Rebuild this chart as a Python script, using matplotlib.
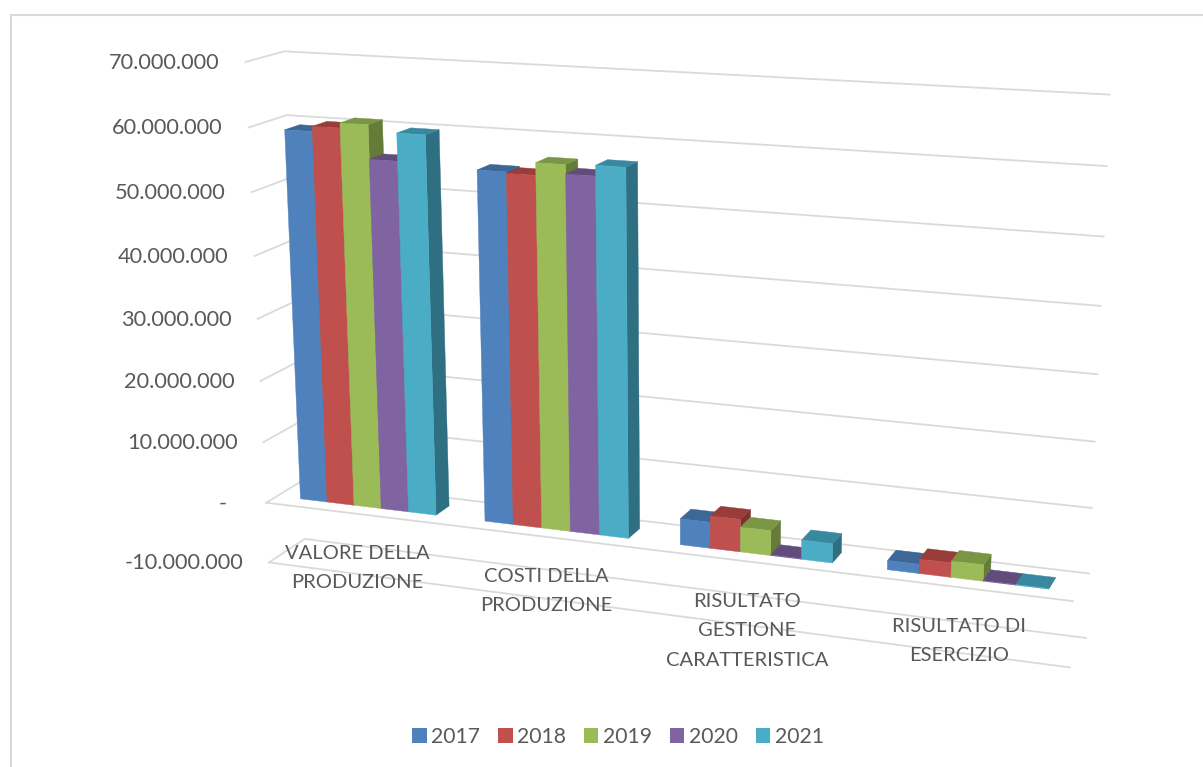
import numpy as np
import matplotlib
matplotlib.use("Agg")
import matplotlib.pyplot as plt
from matplotlib.patches import Patch, Polygon

categories = ["VALORE DELLA\nPRODUZIONE", "COSTI DELLA\nPRODUZIONE",
              "RISULTATO\nGESTIONE\nCARATTERISTICA", "RISULTATO DI\nESERCIZIO"]
years = ["2017", "2018", "2019", "2020", "2021"]
v2017 = [59300000, 55100000, 4100000, 1400000]
v2018 = [60100000, 54900000, 5100000, 2200000]
v2019 = [60900000, 56800000, 3900000, 2500000]
v2020 = [55600000, 55400000, 100000, 100000]
v2021 = [59900000, 57000000, 3000000, 100000]
series = [v2017, v2018, v2019, v2020, v2021]
ticks = [70000000, 60000000, 50000000, 40000000, 30000000, 20000000, 10000000, 0, -10000000]
tick_labels = ["70.000.000", "60.000.000", "50.000.000", "40.000.000", "30.000.000",
               "20.000.000", "10.000.000", "-", "-10.000.000"]

front = ["#4F81BD", "#C0504D", "#9BBB59", "#8064A2", "#4BACC6"]
top = ["#3C6796", "#9A3D3A", "#7A9645", "#614C7C", "#3888A0"]
side = ["#315479", "#7E322F", "#657C38", "#4F3E66", "#2E6F82"]
grey = "#DADADA"
txt = "#595959"

plt.rcParams["font.family"] = ["Lato", "DejaVu Sans"]

# camera fitted on points of the picture: (category pos, value in 10M, depth) -> pixel
cal = [(0, 7, 1, 285, 51), (4, 7, 1, 1110, 95), (0, -1, 1, 303, 538), (4, -1, 1, 1085, 637),
       (0, 7, 0, 245, 62), (0, -1, 0, 268, 562), (4, -1, 0, 1070, 667), (0, 0, 0, 267, 502),
       (4, 0, 0, 1073, 602), (0, 0, 1, 303, 482), (4, 0, 1, 1090, 575), (0, 6, 1, 287, 115),
       (4, 6, 1, 1106, 165), (0, 6, 0, 248, 128),
       (0.13, 0, 0.3, 302, 499), (0.87, 0, 0.3, 435, 515), (1.13, 0, 0.3, 486, 522),
       (1.87, 0, 0.3, 628, 538), (2.13, 0, 0.3, 681, 545), (2.87, 0, 0.3, 832, 563),
       (3.13, 0, 0.3, 888, 569), (3.87, 0, 0.3, 1048, 589)]
A = []
b = []
for x, y, z, u, v in cal:
    u = u / 1000
    v = v / 1000
    A.append([x, y, z, 1, 0, 0, 0, 0, -u * x, -u * y, -u * z])
    A.append([0, 0, 0, 0, x, y, z, 1, -v * x, -v * y, -v * z])
    b += [u, v]
p = np.linalg.lstsq(np.array(A), np.array(b), rcond=None)[0]
P = np.append(p, 1).reshape(3, 4)


def proj(x, val, z):
    h = P @ np.array([x, val / 1e7, z, 1])
    return h[0] / h[2] * 1000, h[1] / h[2] * 1000


fig = plt.figure(figsize=(12.03, 7.67), dpi=100)
ax = fig.add_axes([0, 0, 1, 1])
ax.set_xlim(0, 1203)
ax.set_ylim(767, 0)
ax.axis("off")

# chart border, only top and left are in the crop
ax.plot([11, 11, 1203], [767, 15, 15], color=grey, lw=1.5, zorder=1, solid_joinstyle="miter")

# gridlines
for t, lab in zip(ticks, tick_labels):
    a = proj(0, t, 0)
    b1 = proj(0, t, 1)
    c = proj(4, t, 1)
    ax.plot([a[0], b1[0], c[0]], [a[1], b1[1], c[1]], color=grey, lw=1.3, zorder=1)
    if t <= 0:
        d = proj(4, t, 0)
        ax.plot([a[0], d[0]], [a[1], d[1]], color=grey, lw=1.3, zorder=1)
    off = 39 if lab == "-" else 26
    ax.text(a[0] - off, a[1] + 1, lab, ha="right", va="center", fontsize=15.7, color=txt, zorder=5)

# bars, left to right so that the right faces get covered by the next bar
z0, z1 = 0.3, 0.7
gap = 0.13
w = (1 - 2 * gap) / len(series)
order = 2
for c in range(len(categories)):
    for s in range(len(series)):
        val = series[s][c]
        x0 = c + gap + s * w
        x1 = x0 + w
        faces = [
            ([(x1, 0, z0), (x1, 0, z1), (x1, val, z1), (x1, val, z0)], side[s]),
            ([(x0, val, z0), (x1, val, z0), (x1, val, z1), (x0, val, z1)], top[s]),
            ([(x0, 0, z0), (x1, 0, z0), (x1, val, z0), (x0, val, z0)], front[s]),
        ]
        for pts, col in faces:
            xy = [proj(*q) for q in pts]
            ax.add_patch(Polygon(xy, closed=True, fc=col, ec=col, lw=0.3, zorder=order))
            order += 0.01

# category labels sit over the floor lines
label_pos = [(357, 568), (546, 591), (747, 631), (959, 641)]
for lab, (lx, ly) in zip(categories, label_pos):
    ax.text(lx, ly, lab, ha="center", va="center", fontsize=14.5, color=txt,
            linespacing=1.9, zorder=6)

handles = [Patch(fc=c, ec="none", label=y) for c, y in zip(front, years)]
leg = ax.legend(handles=handles, ncol=5, loc="center", bbox_to_anchor=(618 / 1203, 1 - 737 / 767),
                bbox_transform=fig.transFigure, frameon=False, fontsize=15.2, labelcolor=txt,
                handlelength=0.67, handleheight=0.67, handletextpad=0.2, columnspacing=0.88)

fig.savefig("out.png", dpi=100)
